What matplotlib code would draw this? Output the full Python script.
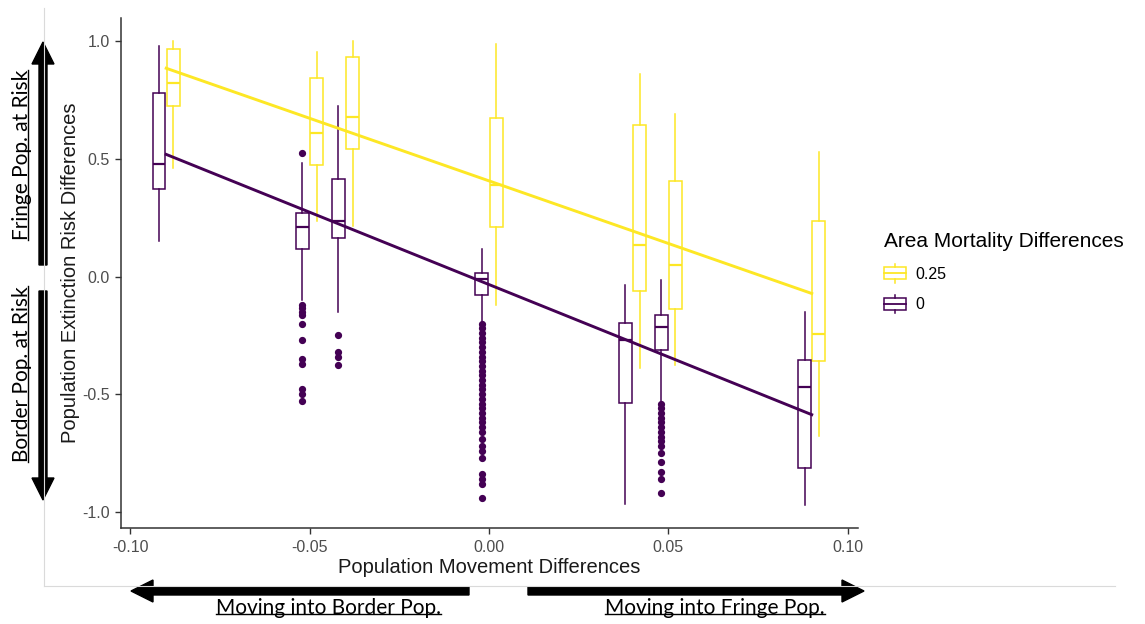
import numpy as np
import matplotlib
matplotlib.use("Agg")
import matplotlib.pyplot as plt
from matplotlib.patches import Patch, Rectangle, FancyArrow
from matplotlib.lines import Line2D
from matplotlib.legend_handler import HandlerBase
from matplotlib.transforms import Affine2D

plt.rcParams["font.family"] = ["Liberation Sans", "DejaVu Sans"]

# -----------------------------
# Data
# -----------------------------
movement = [-0.09, -0.05, -0.04, 0.0, 0.04, 0.05, 0.09]
mortality_labels = ["0.25", "0"]
colors = {"0.25": "#FDE725", "0": "#440154"}

# mortality difference 0.25
q1_hi = [0.723, 0.472, 0.540, 0.210, -0.060, -0.140, -0.357]
med_hi = [0.821, 0.608, 0.677, 0.390, 0.132, 0.051, -0.243]
q3_hi = [0.966, 0.843, 0.932, 0.674, 0.643, 0.408, 0.234]
lo_hi = [0.460, 0.234, 0.213, -0.120, -0.387, -0.375, -0.677]
hi_hi = [1.000, 0.953, 1.000, 0.987, 0.860, 0.689, 0.528]
fliers_hi = [[], [], [], [], [], [], []]

# mortality difference 0
q1_lo = [0.370, 0.115, 0.162, -0.077, -0.536, -0.311, -0.813]
med_lo = [0.477, 0.209, 0.238, -0.012, -0.268, -0.213, -0.470]
q3_lo = [0.779, 0.268, 0.413, 0.013, -0.196, -0.162, -0.353]
lo_lo = [0.149, -0.098, -0.149, -0.190, -0.966, -0.530, -0.970]
hi_lo = [0.979, 0.481, 0.723, 0.115, -0.034, -0.013, -0.149]
fliers_lo = [
    [],
    [0.523, -0.12, -0.135, -0.15, -0.165, -0.20, -0.268, -0.35, -0.37, -0.48, -0.50, -0.53],
    [-0.247, -0.32, -0.34, -0.375],
    [-0.20, -0.22, -0.24, -0.26, -0.28, -0.30, -0.32, -0.34, -0.36, -0.38, -0.40, -0.42,
     -0.44, -0.46, -0.48, -0.50, -0.52, -0.54, -0.56, -0.58, -0.60, -0.62, -0.64, -0.66,
     -0.69, -0.72, -0.74, -0.77, -0.84, -0.86, -0.88, -0.94],
    [],
    [-0.54, -0.56, -0.58, -0.60, -0.62, -0.64, -0.66, -0.68, -0.70, -0.72, -0.75,
     -0.79, -0.83, -0.86, -0.92],
    [],
]

# linear fits (intercept, slope) per mortality level
fit_intercept = {"0.25": 0.4065, "0": -0.034}
fit_slope = {"0.25": -5.317, "0": -6.144}

W, H = 1145, 624
DODGE = 0.002
BOX_W = 0.0036


def box_stats(q1, med, q3, lo, hi, fliers):
    return [
        dict(q1=a, med=b, q3=c, whislo=d, whishi=e, fliers=f)
        for a, b, c, d, e, f in zip(q1, med, q3, lo, hi, fliers)
    ]


class BoxKey(HandlerBase):
    def create_artists(self, legend, orig_handle, xdescent, ydescent,
                       width, height, fontsize, trans):
        c = orig_handle.get_edgecolor()
        x0, y0 = -xdescent, -ydescent
        cx = x0 + width / 2
        rect = Rectangle((x0, y0 + 0.15 * height), width, 0.7 * height,
                         facecolor="white", edgecolor=c, lw=1.1, transform=trans)
        mid = Line2D([x0, x0 + width], [y0 + 0.5 * height] * 2, color=c, lw=1.3, transform=trans)
        w1 = Line2D([cx, cx], [y0 - 0.05 * height, y0 + 0.15 * height], color=c, lw=1.1, transform=trans)
        w2 = Line2D([cx, cx], [y0 + 0.85 * height, y0 + 1.05 * height], color=c, lw=1.1, transform=trans)
        return [rect, mid, w1, w2]


fig = plt.figure(figsize=(W / 100, H / 100), dpi=100)
# pixel coordinates measured from the top-left corner
pix = Affine2D().scale(1 / W, -1 / H).translate(0, 1) + fig.transFigure

ax = fig.add_axes([121 / W, 1 - 528 / H, (858 - 121) / W, (528 - 18) / H])

groups = {
    "0.25": box_stats(q1_hi, med_hi, q3_hi, lo_hi, hi_hi, fliers_hi),
    "0": box_stats(q1_lo, med_lo, q3_lo, lo_lo, hi_lo, fliers_lo),
}
offsets = {"0": -DODGE, "0.25": DODGE}

for key, stats in groups.items():
    c = colors[key]
    pos = [m + offsets[key] for m in movement]
    ax.bxp(
        stats, positions=pos, widths=BOX_W, patch_artist=True, showcaps=False,
        boxprops=dict(facecolor="white", edgecolor=c, linewidth=1.1),
        medianprops=dict(color=c, linewidth=1.6),
        whiskerprops=dict(color=c, linewidth=1.1),
        flierprops=dict(marker="o", markerfacecolor=c, markeredgecolor=c,
                        markersize=4.2, linestyle="none"),
        manage_ticks=False, zorder=2,
    )

xs = np.array([min(movement), max(movement)])
for key in ["0.25", "0"]:
    ax.plot(xs, fit_intercept[key] + fit_slope[key] * xs, color=colors[key],
            lw=2.1, zorder=3)

ax.set_xlim(-0.1026, 0.1029)
ax.set_ylim(-1.0685, 1.0985)
ax.set_xticks([-0.10, -0.05, 0.0, 0.05, 0.10])
ax.set_xticklabels(["-0.10", "-0.05", "0.00", "0.05", "0.10"])
ax.set_yticks([-1.0, -0.5, 0.0, 0.5, 1.0])
ax.set_yticklabels(["-1.0", "-0.5", "0.0", "0.5", "1.0"])
for s in ["top", "right"]:
    ax.spines[s].set_visible(False)
for s in ["left", "bottom"]:
    ax.spines[s].set_color("#333333")
    ax.spines[s].set_linewidth(1.1)
ax.tick_params(direction="out", length=4, width=1, color="#333333",
               labelcolor="#4D4D4D", labelsize=11.5)
ax.tick_params(axis="x", pad=5)
ax.tick_params(axis="y", pad=4)

ax.set_xlabel("Population Movement Differences", fontsize=14.5, color="#1a1a1a")
ax.xaxis.set_label_coords(0.5, -0.058)
ax.set_ylabel("Population Extinction Risk Differences", fontsize=14.5, color="#1a1a1a")
ax.yaxis.set_label_coords(-0.055, 0.5)

handles = [Patch(edgecolor=colors[k], facecolor="white") for k in mortality_labels]
fig.legend(handles, mortality_labels, handler_map={Patch: BoxKey()},
           title="Area Mortality Differences", title_fontsize=15, fontsize=11.5,
           loc="upper left", bbox_to_anchor=(878 / W, 1 - 226 / H), frameon=False,
           alignment="left", handlelength=1.35, handleheight=1.25, handletextpad=0.6,
           labelspacing=0.85, borderaxespad=0)

# faint frame around the plot area
fig.add_artist(Line2D([44, 44], [8, 586], transform=pix, color="#DADADA", lw=0.8))
fig.add_artist(Line2D([44, 1115], [586, 586], transform=pix, color="#DADADA", lw=0.8))

# direction arrows
arrow_kw = dict(width=8, head_width=22, head_length=22, length_includes_head=True,
                color="black", transform=pix)
fig.add_artist(FancyArrow(43, 265, 0, 42 - 265, **arrow_kw))
fig.add_artist(FancyArrow(43, 291, 0, 500 - 291, **arrow_kw))
fig.add_artist(FancyArrow(469, 591, 131 - 469, 0, **arrow_kw))
fig.add_artist(FancyArrow(528, 591, 864 - 528, 0, **arrow_kw))

notes = [
    ("Fringe Pop. at Risk", 22, 155, 90),
    ("Border Pop. at Risk", 22, 374, 90),
    ("Moving into Border Pop.", 328, 608, 0),
    ("Moving into Fringe Pop.", 715, 608, 0),
]
note_texts = []
for label, x, y, rot in notes:
    t = fig.text(x, y, label, transform=pix, rotation=rot, ha="center", va="center",
                 fontsize=15, family=["Lato", "DejaVu Sans"], color="black")
    note_texts.append((t, rot))

# underline the notes
fig.canvas.draw()
renderer = fig.canvas.get_renderer()
inv = fig.transFigure.inverted()
for t, rot in note_texts:
    bb = t.get_window_extent(renderer)
    if rot == 0:
        y = bb.y0 + 0.18 * bb.height
        p0, p1 = inv.transform([(bb.x0, y), (bb.x1, y)])
    else:
        x = bb.x1 - 0.18 * bb.width
        p0, p1 = inv.transform([(x, bb.y0), (x, bb.y1)])
    fig.add_artist(Line2D([p0[0], p1[0]], [p0[1], p1[1]], transform=fig.transFigure,
                          color="black", lw=1.0))

fig.savefig("out.png", dpi=100, facecolor="white")
